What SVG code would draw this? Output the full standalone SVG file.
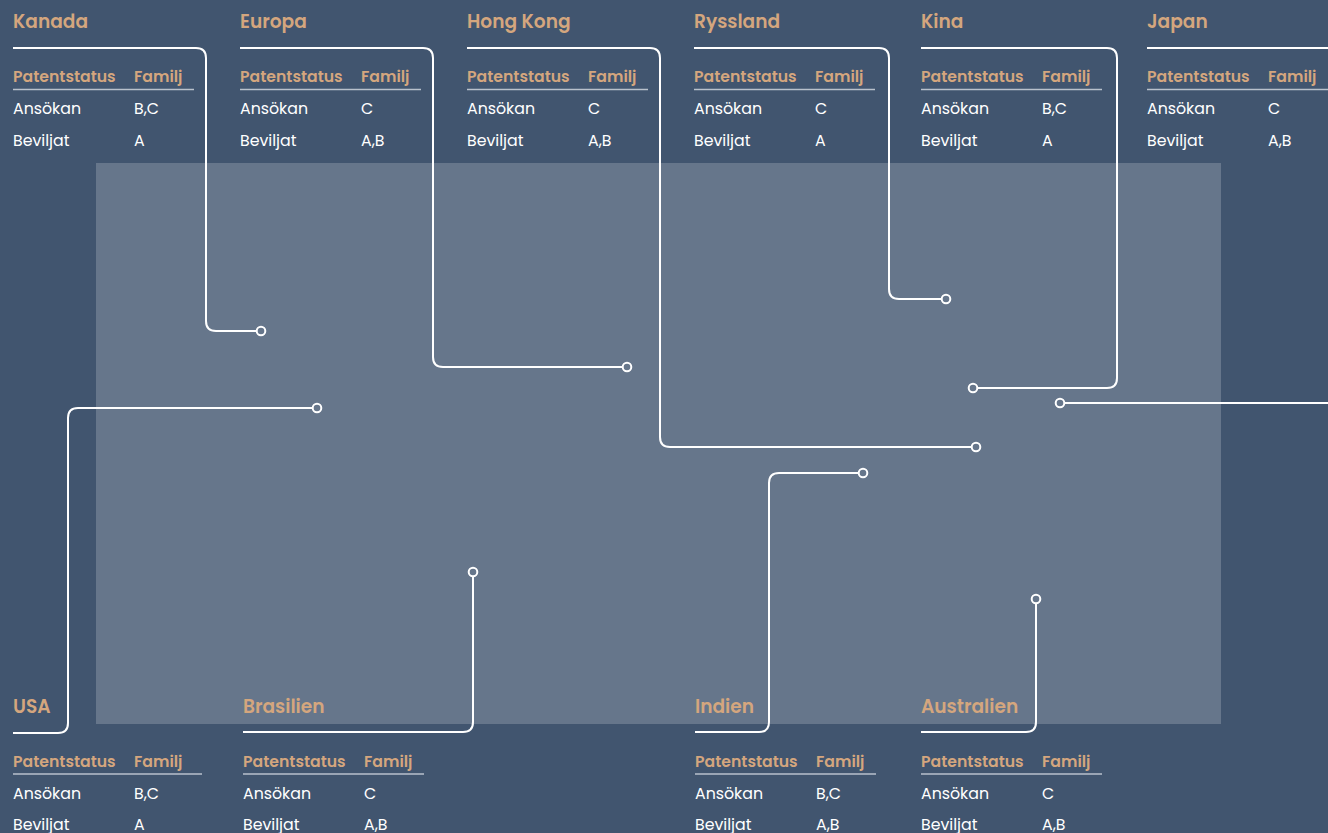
<svg xmlns="http://www.w3.org/2000/svg" width="1328" height="833" viewBox="0 0 1328 833">
<style>
.t{font-family:Poppins,"Open Sans","Noto Sans",sans-serif;font-weight:600;font-size:18.6px;fill:#D4A67E}
.h{font-family:Poppins,"Open Sans","Noto Sans",sans-serif;font-weight:600;font-size:15.7px;fill:#D4A67E}
.b{font-family:Poppins,"Open Sans","Noto Sans",sans-serif;font-weight:400;font-size:15.8px;fill:#FFFFFF}
.u{stroke:#B9C1CC;stroke-width:1.5}
.c{fill:none;stroke:#FFFFFF;stroke-width:2}
.d{fill:#66768B;stroke:#FFFFFF;stroke-width:2}
</style>
<rect x="0" y="0" width="1328" height="833" fill="#41556F"/>
<rect id="map" x="96" y="163" width="1125" height="561" fill="#66768B"/>
<g id="connectors">
<path class="c" d="M13,48 H196 Q206,48 206,58 V321 Q206,331 216,331 H257"/>
<circle class="d" cx="261" cy="331" r="4.3"/>
<path class="c" d="M240,48 H423 Q433,48 433,58 V357 Q433,367 443,367 H623"/>
<circle class="d" cx="627" cy="367" r="4.3"/>
<path class="c" d="M467,48 H650 Q660,48 660,58 V437 Q660,447 670,447 H972"/>
<circle class="d" cx="976" cy="447" r="4.3"/>
<path class="c" d="M694,48 H879 Q889,48 889,58 V289 Q889,299 899,299 H942"/>
<circle class="d" cx="946" cy="299" r="4.3"/>
<path class="c" d="M921,48 H1107 Q1117,48 1117,58 V378 Q1117,388 1107,388 H977"/>
<circle class="d" cx="973" cy="388" r="4.3"/>
<path class="c" d="M1147,48 H1400 V403 H1064"/>
<circle class="d" cx="1060" cy="403" r="4.3"/>
<path class="c" d="M13,733 H58 Q68,733 68,723 V418 Q68,408 78,408 H313"/>
<circle class="d" cx="317" cy="408" r="4.3"/>
<path class="c" d="M243,732 H463 Q473,732 473,722 V576"/>
<circle class="d" cx="473" cy="572" r="4.3"/>
<path class="c" d="M695,732 H759 Q769,732 769,722 V483 Q769,473 779,473 H859"/>
<circle class="d" cx="863" cy="473" r="4.3"/>
<path class="c" d="M921,732 H1026 Q1036,732 1036,722 V603"/>
<circle class="d" cx="1036" cy="599" r="4.3"/>
</g>
<g id="kanada">
<text class="t" x="13" y="28">Kanada</text>
<text class="h" x="13" y="82">Patentstatus</text><text class="h" x="134" y="82">Familj</text>
<line class="u" x1="13" y1="89.5" x2="194" y2="89.5"/>
<text class="b" x="13" y="114">Ansökan</text><text class="b" x="134" y="114">B,C</text>
<text class="b" x="13" y="146">Beviljat</text><text class="b" x="134" y="146">A</text>
</g>
<g id="europa">
<text class="t" x="240" y="28">Europa</text>
<text class="h" x="240" y="82">Patentstatus</text><text class="h" x="361" y="82">Familj</text>
<line class="u" x1="240" y1="89.5" x2="421" y2="89.5"/>
<text class="b" x="240" y="114">Ansökan</text><text class="b" x="361" y="114">C</text>
<text class="b" x="240" y="146">Beviljat</text><text class="b" x="361" y="146">A,B</text>
</g>
<g id="hongkong">
<text class="t" x="467" y="28">Hong Kong</text>
<text class="h" x="467" y="82">Patentstatus</text><text class="h" x="588" y="82">Familj</text>
<line class="u" x1="467" y1="89.5" x2="648" y2="89.5"/>
<text class="b" x="467" y="114">Ansökan</text><text class="b" x="588" y="114">C</text>
<text class="b" x="467" y="146">Beviljat</text><text class="b" x="588" y="146">A,B</text>
</g>
<g id="ryssland">
<text class="t" x="694" y="28">Ryssland</text>
<text class="h" x="694" y="82">Patentstatus</text><text class="h" x="815" y="82">Familj</text>
<line class="u" x1="694" y1="89.5" x2="875" y2="89.5"/>
<text class="b" x="694" y="114">Ansökan</text><text class="b" x="815" y="114">C</text>
<text class="b" x="694" y="146">Beviljat</text><text class="b" x="815" y="146">A</text>
</g>
<g id="kina">
<text class="t" x="921" y="28">Kina</text>
<text class="h" x="921" y="82">Patentstatus</text><text class="h" x="1042" y="82">Familj</text>
<line class="u" x1="921" y1="89.5" x2="1102" y2="89.5"/>
<text class="b" x="921" y="114">Ansökan</text><text class="b" x="1042" y="114">B,C</text>
<text class="b" x="921" y="146">Beviljat</text><text class="b" x="1042" y="146">A</text>
</g>
<g id="japan">
<text class="t" x="1147" y="28">Japan</text>
<text class="h" x="1147" y="82">Patentstatus</text><text class="h" x="1268" y="82">Familj</text>
<line class="u" x1="1147" y1="89.5" x2="1328" y2="89.5"/>
<text class="b" x="1147" y="114">Ansökan</text><text class="b" x="1268" y="114">C</text>
<text class="b" x="1147" y="146">Beviljat</text><text class="b" x="1268" y="146">A,B</text>
</g>
<g id="usa">
<text class="t" x="13" y="713">USA</text>
<text class="h" x="13" y="767">Patentstatus</text><text class="h" x="134" y="767">Familj</text>
<line class="u" x1="13" y1="774" x2="202" y2="774"/>
<text class="b" x="13" y="799">Ansökan</text><text class="b" x="134" y="799">B,C</text>
<text class="b" x="13" y="830">Beviljat</text><text class="b" x="134" y="830">A</text>
</g>
<g id="brasilien">
<text class="t" x="243" y="713">Brasilien</text>
<text class="h" x="243" y="767">Patentstatus</text><text class="h" x="364" y="767">Familj</text>
<line class="u" x1="243" y1="774" x2="424" y2="774"/>
<text class="b" x="243" y="799">Ansökan</text><text class="b" x="364" y="799">C</text>
<text class="b" x="243" y="830">Beviljat</text><text class="b" x="364" y="830">A,B</text>
</g>
<g id="indien">
<text class="t" x="695" y="713">Indien</text>
<text class="h" x="695" y="767">Patentstatus</text><text class="h" x="816" y="767">Familj</text>
<line class="u" x1="695" y1="774" x2="876" y2="774"/>
<text class="b" x="695" y="799">Ansökan</text><text class="b" x="816" y="799">B,C</text>
<text class="b" x="695" y="830">Beviljat</text><text class="b" x="816" y="830">A,B</text>
</g>
<g id="australien">
<text class="t" x="921" y="713">Australien</text>
<text class="h" x="921" y="767">Patentstatus</text><text class="h" x="1042" y="767">Familj</text>
<line class="u" x1="921" y1="774" x2="1102" y2="774"/>
<text class="b" x="921" y="799">Ansökan</text><text class="b" x="1042" y="799">C</text>
<text class="b" x="921" y="830">Beviljat</text><text class="b" x="1042" y="830">A,B</text>
</g>
</svg>
